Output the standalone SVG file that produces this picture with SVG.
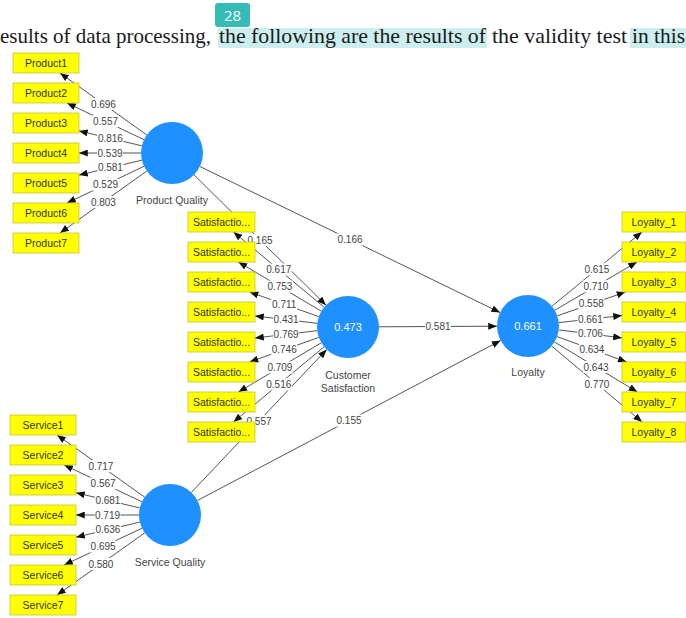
<svg xmlns="http://www.w3.org/2000/svg" width="686" height="618" viewBox="0 0 686 618">
<style>
.hdr{font-family:"Liberation Serif","Times New Roman",serif;font-size:21.5px;fill:#1a1a1a}
.box{fill:#ffff00;stroke:#c4c43a;stroke-width:0.8}
.bt{font-family:"Liberation Sans",Arial,sans-serif;font-size:10.5px;fill:#333;text-anchor:middle}
.lv{fill:#1e90ff}
.lvv{font-family:"Liberation Sans",Arial,sans-serif;font-size:11px;fill:#ffffff;text-anchor:middle}
.lvn{font-family:"Liberation Sans",Arial,sans-serif;font-size:10.5px;fill:#444;text-anchor:middle}
.ln{stroke:#555;stroke-width:1;fill:none;marker-end:url(#ah)}
.lb rect{fill:#ffffff}
.lb text{font-family:"Liberation Sans",Arial,sans-serif;font-size:10px;fill:#444;text-anchor:middle}
</style>
<defs>
<marker id="ah" viewBox="0 0 10 8" refX="10" refY="4" markerWidth="9" markerHeight="7" orient="auto" markerUnits="userSpaceOnUse">
<path d="M0,0 L10,4 L0,8 z" fill="#111"/>
</marker>
</defs>
<rect width="686" height="618" fill="#ffffff"/>
<g id="header">
<rect x="218" y="28" width="269" height="20" fill="#cdeeee"/>
<rect x="630" y="28" width="56" height="20" fill="#cdeeee"/>
<text class="hdr" x="0" y="43" textLength="211" lengthAdjust="spacingAndGlyphs">esults of data processing,</text>
<text class="hdr" x="219" y="43" textLength="267" lengthAdjust="spacingAndGlyphs">the following are the results of</text>
<text class="hdr" x="492" y="43" textLength="135" lengthAdjust="spacingAndGlyphs">the validity test</text>
<text class="hdr" x="632" y="43" textLength="53" lengthAdjust="spacingAndGlyphs">in this</text>
<rect x="215" y="3" width="35" height="24" rx="3" fill="#34bdb6"/>
<text x="232.5" y="21" font-family="'Open Sans','Liberation Sans',sans-serif" font-size="15" fill="#ffffff" text-anchor="middle">28</text>
</g>
<g id="connectors">
<line class="ln" x1="146.8" y1="135" x2="60" y2="73"/>
<line class="ln" x1="144" y1="139.7" x2="67" y2="103"/>
<line class="ln" x1="141.8" y1="145.8" x2="79" y2="130.9"/>
<line class="ln" x1="141" y1="153" x2="79" y2="153"/>
<line class="ln" x1="141.8" y1="160.2" x2="79" y2="175.1"/>
<line class="ln" x1="144" y1="166.3" x2="67" y2="203"/>
<line class="ln" x1="146.8" y1="171" x2="60" y2="233"/>
<line class="ln" x1="324.1" y1="307.2" x2="233.5" y2="232"/>
<line class="ln" x1="321.3" y1="311.2" x2="238.4" y2="262"/>
<line class="ln" x1="318.8" y1="316.6" x2="249.6" y2="292"/>
<line class="ln" x1="317.2" y1="323.3" x2="255" y2="316"/>
<line class="ln" x1="317.2" y1="330.7" x2="255" y2="338"/>
<line class="ln" x1="318.8" y1="337.4" x2="249.6" y2="362"/>
<line class="ln" x1="321.3" y1="342.8" x2="238.4" y2="392"/>
<line class="ln" x1="324.1" y1="346.8" x2="233.5" y2="422"/>
<line class="ln" x1="551.9" y1="306.3" x2="641.9" y2="232"/>
<line class="ln" x1="554.7" y1="310.3" x2="637" y2="262"/>
<line class="ln" x1="557.3" y1="315.8" x2="625.4" y2="292"/>
<line class="ln" x1="558.8" y1="322.6" x2="622" y2="315.6"/>
<line class="ln" x1="558.8" y1="329.9" x2="622" y2="337.9"/>
<line class="ln" x1="557.1" y1="336.6" x2="626.7" y2="362"/>
<line class="ln" x1="554.5" y1="342" x2="637.4" y2="392"/>
<line class="ln" x1="551.7" y1="346" x2="642.1" y2="422"/>
<line class="ln" x1="144.7" y1="497.1" x2="57.1" y2="435"/>
<line class="ln" x1="142" y1="501.8" x2="64.2" y2="465"/>
<line class="ln" x1="139.8" y1="507.9" x2="76" y2="492.8"/>
<line class="ln" x1="139" y1="515" x2="76" y2="515"/>
<line class="ln" x1="139.8" y1="522.1" x2="76" y2="537.2"/>
<line class="ln" x1="142" y1="528.2" x2="64.2" y2="565"/>
<line class="ln" x1="144.7" y1="532.9" x2="57.1" y2="595"/>
<line class="ln" x1="199.9" y1="166.5" x2="500.1" y2="312.5"/>
<line class="ln" x1="194" y1="174.8" x2="326" y2="305.2"/>
<line class="ln" x1="379" y1="326.8" x2="497" y2="326.2"/>
<line class="ln" x1="191.3" y1="492.5" x2="326.7" y2="349.5"/>
<line class="ln" x1="197.4" y1="500.5" x2="500.6" y2="340.5"/>
<g class="lb">
<rect x="90.4" y="98" width="26" height="12"/><text x="103.4" y="107.5">0.696</text>
<rect x="92.5" y="115.3" width="26" height="12"/><text x="105.5" y="124.8">0.557</text>
<rect x="97.4" y="132.3" width="26" height="12"/><text x="110.4" y="141.8">0.816</text>
<rect x="97" y="147" width="26" height="12"/><text x="110" y="156.5">0.539</text>
<rect x="97.4" y="161.7" width="26" height="12"/><text x="110.4" y="171.2">0.581</text>
<rect x="92.5" y="178.7" width="26" height="12"/><text x="105.5" y="188.2">0.529</text>
<rect x="90.4" y="196" width="26" height="12"/><text x="103.4" y="205.5">0.803</text>
<rect x="265.8" y="263.6" width="26" height="12"/><text x="278.8" y="273.1">0.617</text>
<rect x="266.9" y="280.6" width="26" height="12"/><text x="279.9" y="290.1">0.753</text>
<rect x="271.2" y="298.3" width="26" height="12"/><text x="284.2" y="307.8">0.711</text>
<rect x="273.1" y="313.6" width="26" height="12"/><text x="286.1" y="323.1">0.431</text>
<rect x="273.1" y="328.4" width="26" height="12"/><text x="286.1" y="337.9">0.769</text>
<rect x="271.2" y="343.7" width="26" height="12"/><text x="284.2" y="353.2">0.746</text>
<rect x="266.9" y="361.4" width="26" height="12"/><text x="279.9" y="370.9">0.709</text>
<rect x="265.8" y="378.4" width="26" height="12"/><text x="278.8" y="387.9">0.516</text>
<rect x="583.9" y="263.2" width="26" height="12"/><text x="596.9" y="272.7">0.615</text>
<rect x="582.9" y="280.2" width="26" height="12"/><text x="595.9" y="289.7">0.710</text>
<rect x="578.3" y="297.9" width="26" height="12"/><text x="591.3" y="307.4">0.558</text>
<rect x="577.4" y="313.1" width="26" height="12"/><text x="590.4" y="322.6">0.661</text>
<rect x="577.4" y="327.9" width="26" height="12"/><text x="590.4" y="337.4">0.706</text>
<rect x="578.9" y="343.3" width="26" height="12"/><text x="591.9" y="352.8">0.634</text>
<rect x="583" y="361" width="26" height="12"/><text x="596" y="370.5">0.643</text>
<rect x="583.9" y="378" width="26" height="12"/><text x="596.9" y="387.5">0.770</text>
<rect x="87.9" y="460" width="26" height="12"/><text x="100.9" y="469.5">0.717</text>
<rect x="90.1" y="477.4" width="26" height="12"/><text x="103.1" y="486.9">0.567</text>
<rect x="94.9" y="494.4" width="26" height="12"/><text x="107.9" y="503.9">0.681</text>
<rect x="94.5" y="509" width="26" height="12"/><text x="107.5" y="518.5">0.719</text>
<rect x="94.9" y="523.6" width="26" height="12"/><text x="107.9" y="533.1">0.636</text>
<rect x="90.1" y="540.6" width="26" height="12"/><text x="103.1" y="550.1">0.695</text>
<rect x="87.9" y="558" width="26" height="12"/><text x="100.9" y="567.5">0.580</text>
<rect x="337" y="233.5" width="26" height="12"/><text x="350" y="243">0.166</text>
<rect x="247" y="234" width="26" height="12"/><text x="260" y="243.5">0.165</text>
<rect x="425" y="320.5" width="26" height="12"/><text x="438" y="330">0.581</text>
<rect x="246" y="415" width="26" height="12"/><text x="259" y="424.5">0.557</text>
<rect x="336" y="414.5" width="26" height="12"/><text x="349" y="424">0.155</text>
</g>
</g>
<g id="product-quality">
<circle class="lv" cx="172" cy="153" r="31"/>
<text class="lvn" x="172" y="204">Product Quality</text>
</g>
<g id="customer-satisfaction">
<circle class="lv" cx="348" cy="327" r="31"/>
<text class="lvv" x="348" y="331">0.473</text>
<text class="lvn" x="348" y="379">Customer</text>
<text class="lvn" x="348" y="392">Satisfaction</text>
</g>
<g id="loyalty">
<circle class="lv" cx="528" cy="326" r="31"/>
<text class="lvv" x="528" y="330">0.661</text>
<text class="lvn" x="528" y="376">Loyalty</text>
</g>
<g id="service-quality">
<circle class="lv" cx="170" cy="515" r="31"/>
<text class="lvn" x="170" y="566">Service Quality</text>
</g>
<g id="product1"><rect class="box" x="13" y="53" width="66" height="20"/><text class="bt" x="46" y="67">Product1</text></g>
<g id="product2"><rect class="box" x="13" y="83" width="66" height="20"/><text class="bt" x="46" y="97">Product2</text></g>
<g id="product3"><rect class="box" x="13" y="113" width="66" height="20"/><text class="bt" x="46" y="127">Product3</text></g>
<g id="product4"><rect class="box" x="13" y="143" width="66" height="20"/><text class="bt" x="46" y="157">Product4</text></g>
<g id="product5"><rect class="box" x="13" y="173" width="66" height="20"/><text class="bt" x="46" y="187">Product5</text></g>
<g id="product6"><rect class="box" x="13" y="203" width="66" height="20"/><text class="bt" x="46" y="217">Product6</text></g>
<g id="product7"><rect class="box" x="13" y="233" width="66" height="20"/><text class="bt" x="46" y="247">Product7</text></g>
<g id="satisfaction1"><rect class="box" x="188" y="212" width="67" height="20"/><text class="bt" x="221.5" y="226">Satisfactio...</text></g>
<g id="satisfaction2"><rect class="box" x="188" y="242" width="67" height="20"/><text class="bt" x="221.5" y="256">Satisfactio...</text></g>
<g id="satisfaction3"><rect class="box" x="188" y="272" width="67" height="20"/><text class="bt" x="221.5" y="286">Satisfactio...</text></g>
<g id="satisfaction4"><rect class="box" x="188" y="302" width="67" height="20"/><text class="bt" x="221.5" y="316">Satisfactio...</text></g>
<g id="satisfaction5"><rect class="box" x="188" y="332" width="67" height="20"/><text class="bt" x="221.5" y="346">Satisfactio...</text></g>
<g id="satisfaction6"><rect class="box" x="188" y="362" width="67" height="20"/><text class="bt" x="221.5" y="376">Satisfactio...</text></g>
<g id="satisfaction7"><rect class="box" x="188" y="392" width="67" height="20"/><text class="bt" x="221.5" y="406">Satisfactio...</text></g>
<g id="satisfaction8"><rect class="box" x="188" y="422" width="67" height="20"/><text class="bt" x="221.5" y="436">Satisfactio...</text></g>
<g id="loyalty1"><rect class="box" x="622" y="212" width="63.5" height="20"/><text class="bt" x="654" y="226">Loyalty_1</text></g>
<g id="loyalty2"><rect class="box" x="622" y="242" width="63.5" height="20"/><text class="bt" x="654" y="256">Loyalty_2</text></g>
<g id="loyalty3"><rect class="box" x="622" y="272" width="63.5" height="20"/><text class="bt" x="654" y="286">Loyalty_3</text></g>
<g id="loyalty4"><rect class="box" x="622" y="302" width="63.5" height="20"/><text class="bt" x="654" y="316">Loyalty_4</text></g>
<g id="loyalty5"><rect class="box" x="622" y="332" width="63.5" height="20"/><text class="bt" x="654" y="346">Loyalty_5</text></g>
<g id="loyalty6"><rect class="box" x="622" y="362" width="63.5" height="20"/><text class="bt" x="654" y="376">Loyalty_6</text></g>
<g id="loyalty7"><rect class="box" x="622" y="392" width="63.5" height="20"/><text class="bt" x="654" y="406">Loyalty_7</text></g>
<g id="loyalty8"><rect class="box" x="622" y="422" width="63.5" height="20"/><text class="bt" x="654" y="436">Loyalty_8</text></g>
<g id="service1"><rect class="box" x="10" y="415" width="66" height="20"/><text class="bt" x="43" y="429">Service1</text></g>
<g id="service2"><rect class="box" x="10" y="445" width="66" height="20"/><text class="bt" x="43" y="459">Service2</text></g>
<g id="service3"><rect class="box" x="10" y="475" width="66" height="20"/><text class="bt" x="43" y="489">Service3</text></g>
<g id="service4"><rect class="box" x="10" y="505" width="66" height="20"/><text class="bt" x="43" y="519">Service4</text></g>
<g id="service5"><rect class="box" x="10" y="535" width="66" height="20"/><text class="bt" x="43" y="549">Service5</text></g>
<g id="service6"><rect class="box" x="10" y="565" width="66" height="20"/><text class="bt" x="43" y="579">Service6</text></g>
<g id="service7"><rect class="box" x="10" y="595" width="66" height="20"/><text class="bt" x="43" y="609">Service7</text></g>
</svg>
